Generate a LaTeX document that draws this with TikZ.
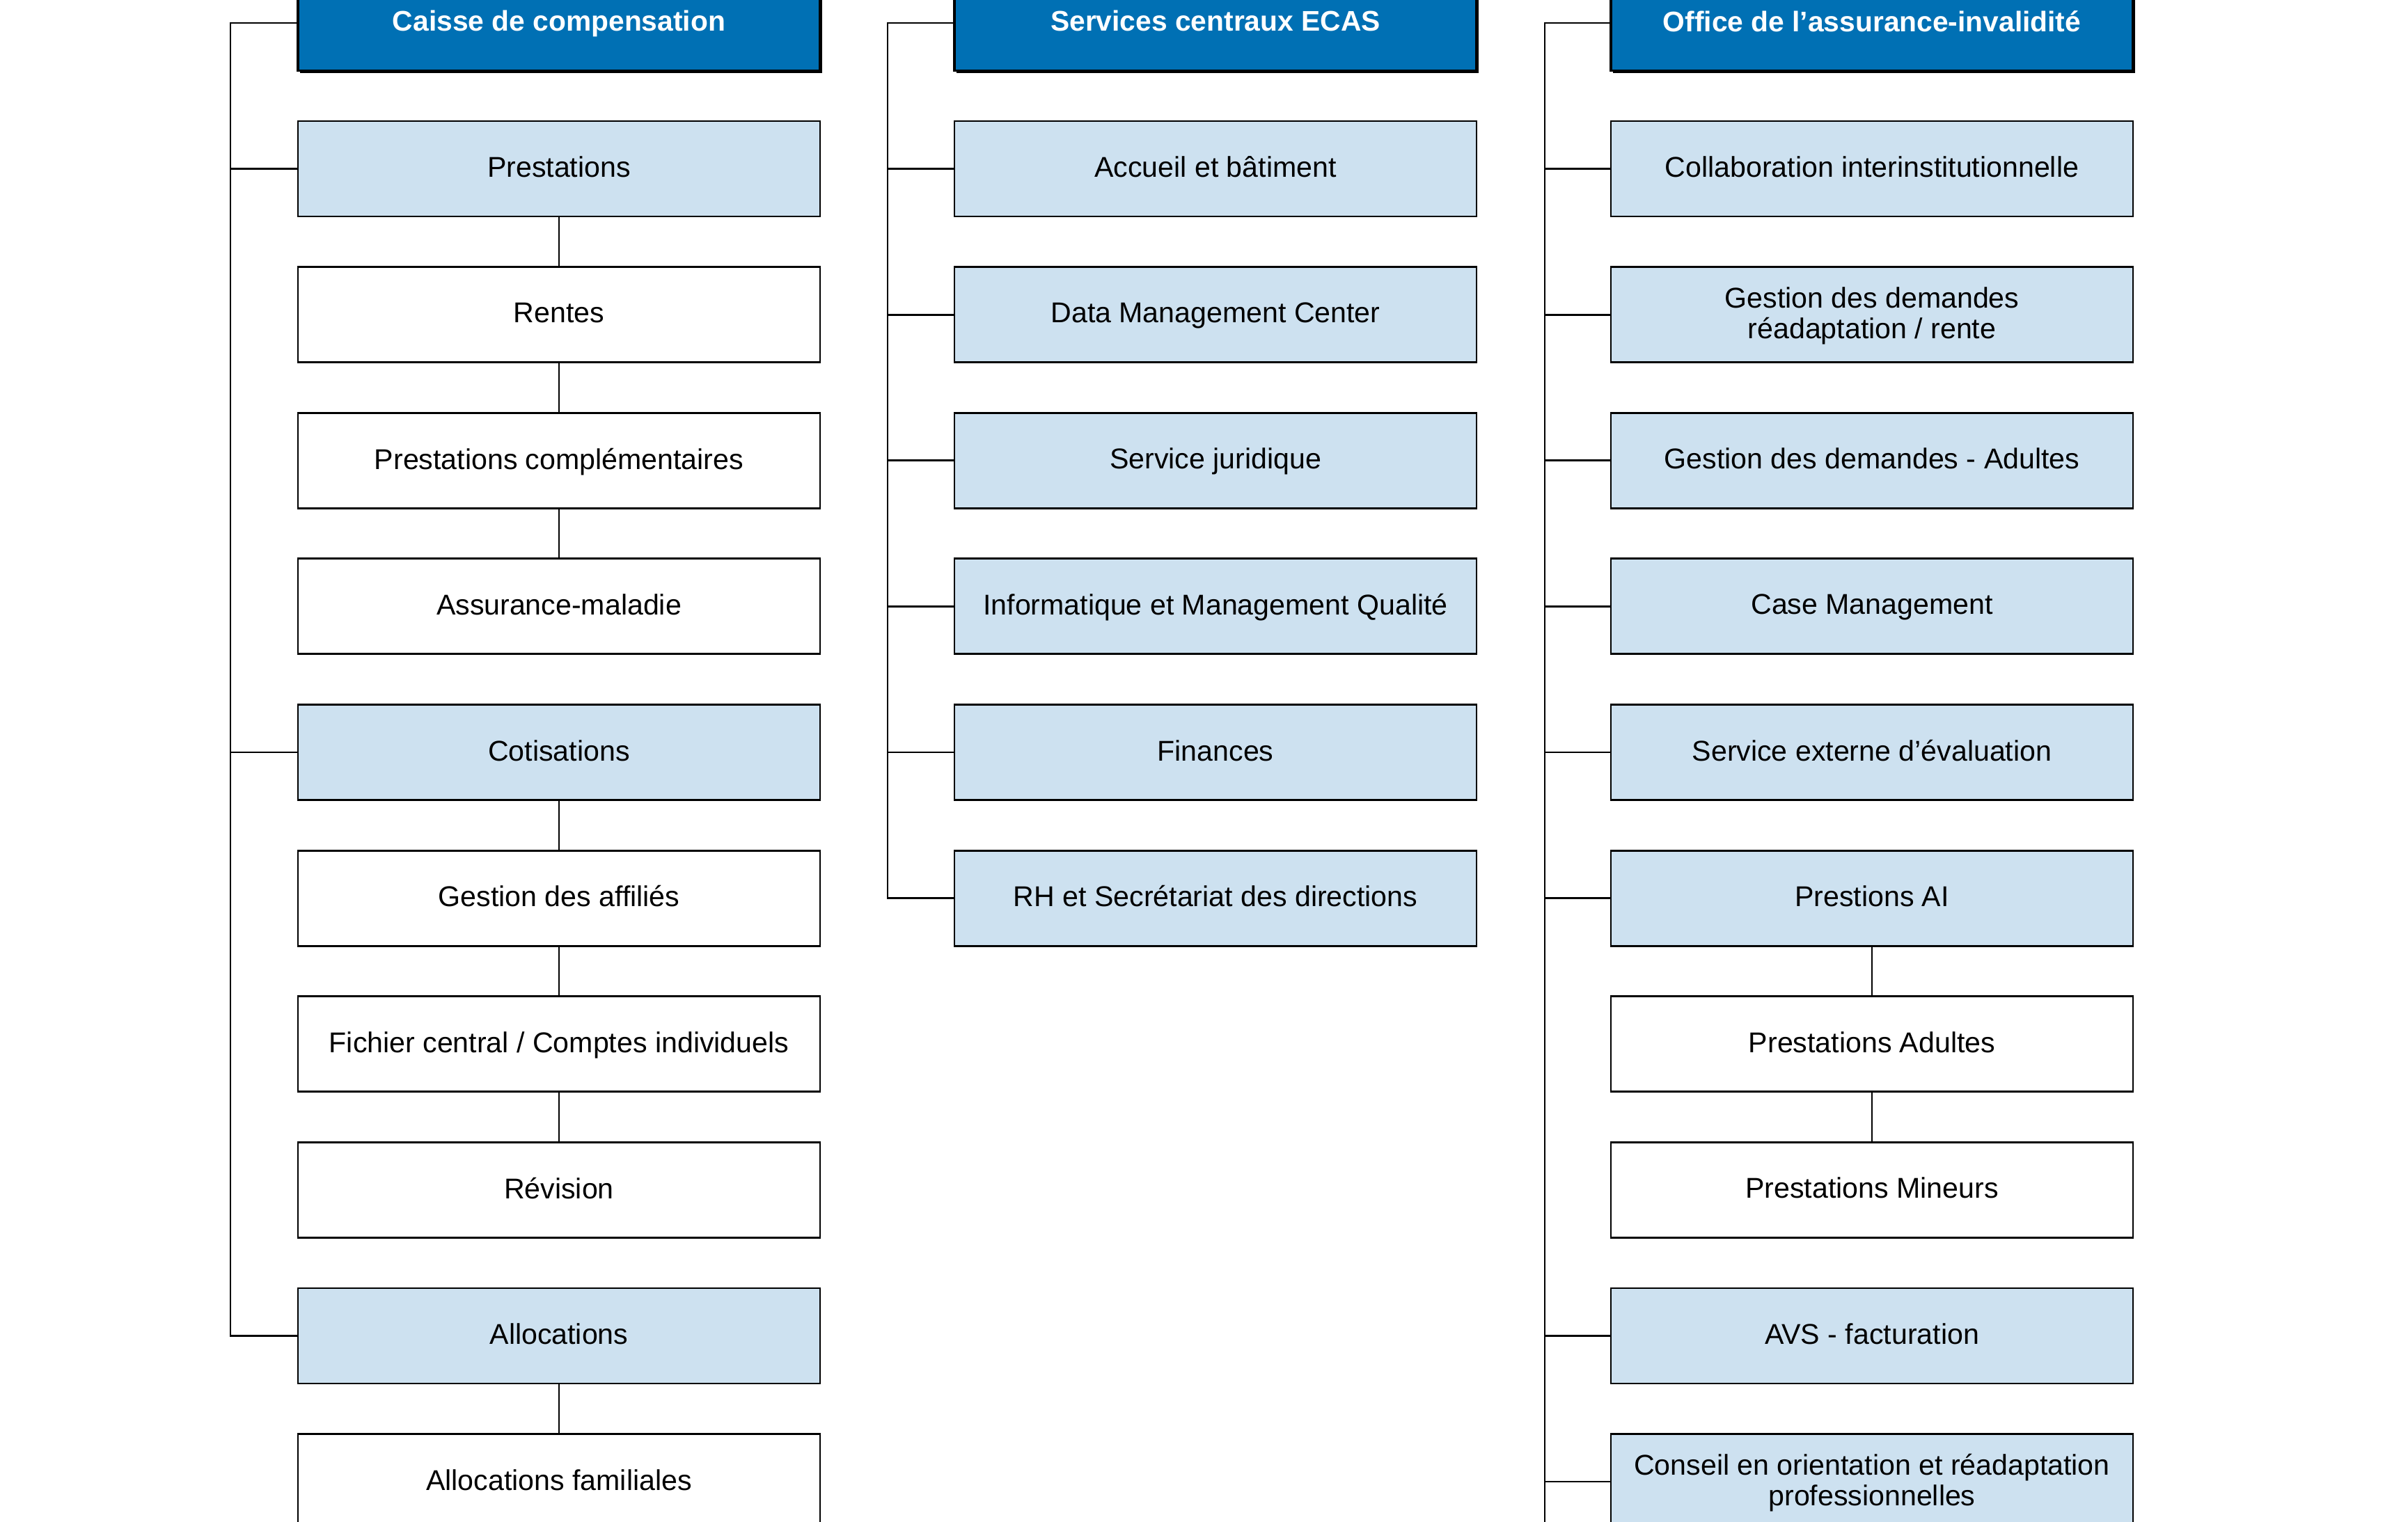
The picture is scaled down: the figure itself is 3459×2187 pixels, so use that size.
\documentclass[tikz,border=0pt]{standalone}
\usepackage{fontspec}
\setmainfont{Liberation Sans}
\usetikzlibrary{shadows}
\definecolor{hdrblue}{RGB}{0,112,180}
\definecolor{lightblue}{RGB}{205,225,240}
\begin{document}
\begin{tikzpicture}[x=0.1mm,y=-0.1mm,
  base/.style={draw=black, line width=0.8pt, minimum width=75mm, minimum height=13.7mm,
    inner sep=0pt, align=center, text depth=0.3ex, font=\fontsize{11.7}{12.4}\selectfont},
  hdr/.style={base, fill=hdrblue, text=white, font=\bfseries\fontsize{11.6}{12.4}\selectfont,
    line width=1pt, drop shadow={shadow xshift=0.25mm, shadow yshift=-0.35mm, fill=black, opacity=1}},
  lbox/.style={base, fill=lightblue},
  wbox/.style={base, fill=white},
  conn/.style={draw=black, line width=0.8pt}]
\useasboundingbox (0,0) rectangle (3459,2187);
\clip (0,0) rectangle (3459,2187);
\fill[white] (0,0) rectangle (3459,2187);
% column 1
\node[hdr]  (a0)  at (803,33)     {Caisse de compensation};
\node[lbox] (a1)  at (803,242.6)  {Prestations};
\node[wbox] (a2)  at (803,452.2)  {Rentes};
\node[wbox] (a3)  at (803,661.8)  {Prestations complémentaires};
\node[wbox] (a4)  at (803,871.4)  {Assurance-maladie};
\node[lbox] (a5)  at (803,1081)   {Cotisations};
\node[wbox] (a6)  at (803,1290.6) {Gestion des affiliés};
\node[wbox] (a7)  at (803,1500.2) {Fichier central / Comptes individuels};
\node[wbox] (a8)  at (803,1709.8) {Révision};
\node[lbox] (a9)  at (803,1919.4) {Allocations};
\node[wbox] (a10) at (803,2129)   {Allocations familiales};
% column 2
\node[hdr]  (b0) at (1746,33)     {Services centraux ECAS};
\node[lbox] (b1) at (1746,242.6)  {Accueil et bâtiment};
\node[lbox] (b2) at (1746,452.2)  {Data Management Center};
\node[lbox] (b3) at (1746,661.8)  {Service juridique};
\node[lbox] (b4) at (1746,871.4)  {Informatique et Management Qualité};
\node[lbox] (b5) at (1746,1081)   {Finances};
\node[lbox] (b6) at (1746,1290.6) {RH et Secrétariat des directions};
% column 3
\node[hdr]  (c0)  at (2689,33)     {Office de l’assurance-invalidité};
\node[lbox] (c1)  at (2689,242.6)  {Collaboration interinstitutionnelle};
\node[lbox] (c2)  at (2689,452.2)  {Gestion des demandes\\réadaptation / rente};
\node[lbox] (c3)  at (2689,661.8)  {Gestion des demandes - Adultes};
\node[lbox] (c4)  at (2689,871.4)  {Case Management};
\node[lbox] (c5)  at (2689,1081)   {Service externe d’évaluation};
\node[lbox] (c6)  at (2689,1290.6) {Prestions AI};
\node[wbox] (c7)  at (2689,1500.2) {Prestations Adultes};
\node[wbox] (c8)  at (2689,1709.8) {Prestations Mineurs};
\node[lbox] (c9)  at (2689,1919.4) {AVS - facturation};
\node[lbox] (c10) at (2689,2129)   {Conseil en orientation et réadaptation\\professionnelles};
% spines
\coordinate (sa) at (331,1919.4);
\coordinate (sb) at (1275,1290.6);
\coordinate (sc) at (2219,2200);
\draw[conn] (a0.west) -| (sa) -- (a9.west);
\foreach \n in {a1,a5} \draw[conn] (\n.west) -- (\n.west -| sa);
\draw[conn] (b0.west) -| (sb) -- (b6.west);
\foreach \n in {b1,b2,b3,b4,b5} \draw[conn] (\n.west) -- (\n.west -| sb);
\draw[conn] (c0.west) -| (sc);
\foreach \n in {c1,c2,c3,c4,c5,c6,c9,c10} \draw[conn] (\n.west) -- (\n.west -| sc);
% vertical links
\foreach \u/\v in {a1/a2,a2/a3,a3/a4,a5/a6,a6/a7,a7/a8,a9/a10,c6/c7,c7/c8}
  \draw[conn] (\u.south) -- (\v.north);
\end{tikzpicture}
\end{document}
